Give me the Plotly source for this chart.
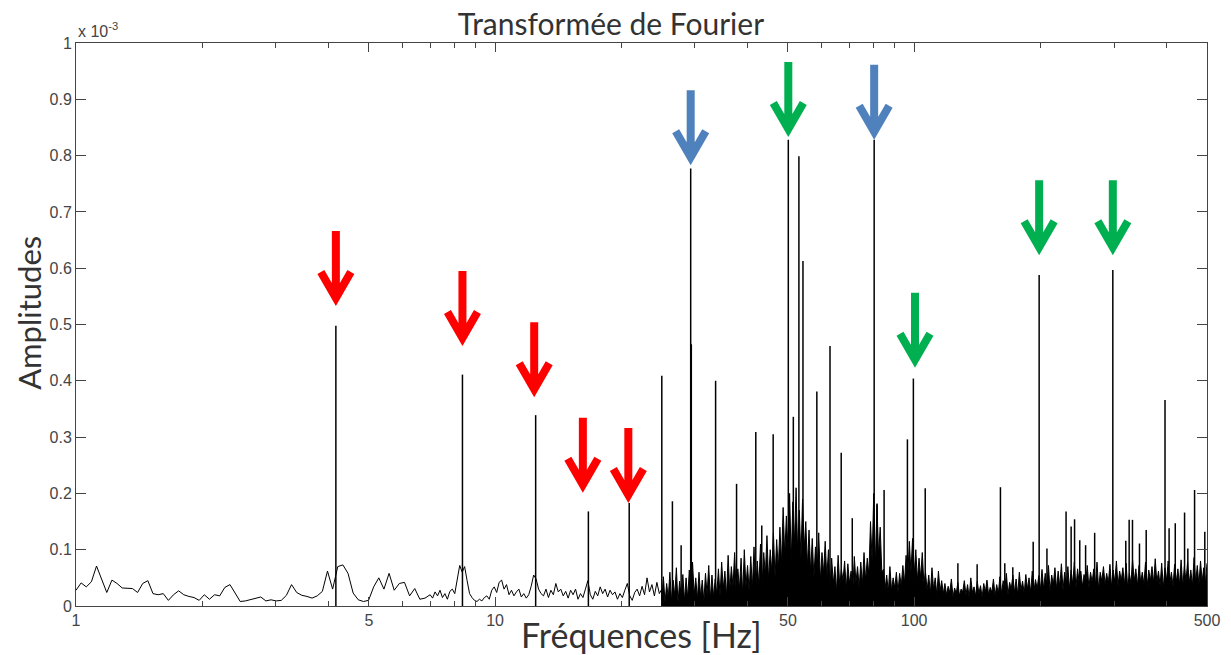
import numpy as np
import plotly.graph_objects as go

# amplitudes are in units of 1e-6 (the axis reads "x 10^-3")

# noise floor, 1 -> 7 Hz
noise_low = [28, 41, 34, 43, 71, 49, 24, 46, 40, 32, 31, 31, 24, 40, 45, 22, 20, 22, 10, 20,
             27, 20, 17, 15, 10, 20, 12, 20, 18, 33, 38, 22, 8, 9, 11, 14, 16, 9, 11, 9,
             10, 19, 38, 24, 19, 17, 14, 18, 26, 62, 30, 70, 73, 58, 23, 11, 8, 10, 34, 50,
             30, 58, 28, 40, 42, 18, 31, 12, 14, 20]

# noise floor, 7 -> 25 Hz
noise_mid = [20, 14, 25, 18, 28, 15, 22, 12, 26, 30, 22, 45, 72, 60, 70, 45, 22, 15, 10, 8,
             12, 9, 15, 18, 12, 28, 34, 24, 42, 46, 30, 38, 20, 28, 18, 25, 30, 16, 22, 14,
             20, 35, 55, 48, 30, 22, 18, 30, 15, 28, 20, 40, 25, 30, 18, 26, 14, 28, 20, 30,
             12, 22, 15, 30, 45, 20, 12, 26, 18, 34, 22, 30, 16, 28, 20, 25, 12, 22, 15, 28,
             40, 18, 10, 24, 30, 18, 35, 20, 50, 25, 38, 18, 42, 22, 30]

# noise floor, 25 -> 500 Hz (dense part, drawn filled)
noise_high = [
    12, 52, 6, 40, 14, 60, 8, 46, 18, 68, 6, 44, 16, 56, 9, 50, 14, 64, 10, 78,
    20, 50, 12, 60, 16, 46, 8, 58, 20, 72, 12, 55, 16, 48, 20, 66,
    18, 78, 30, 62, 16, 90, 26, 70, 34, 95, 22, 66, 30, 85, 20, 100, 34, 72, 26, 88,
    32, 105, 24, 80, 36,
    110, 40, 95, 55, 125, 45, 100, 60, 130, 50, 118, 65,
    140, 75, 175, 90, 160, 100, 200, 80, 185, 110, 210, 95, 170, 85, 190, 100, 150, 70, 135,
    60, 120, 50, 105, 65, 130, 45, 95, 58, 115, 50, 100,
    30, 85, 40, 70, 25, 90, 35, 65, 45, 80, 30, 75, 40, 62, 25, 88, 42, 70, 32, 78,
    38, 95, 45, 85, 55,
    150, 80, 200, 70, 180, 90, 140, 60,
    65, 30, 55, 25, 70, 28, 50, 32, 60, 25, 58, 35, 72, 40,
    90, 50, 115, 60, 120, 55, 100, 45, 85, 50, 95, 40,
    60, 28, 55, 22, 68, 30, 50, 20, 62, 26, 45, 22,
    40, 20, 35, 24, 48, 16, 32, 22, 42, 18, 30, 25, 45, 20, 38, 15, 50, 24, 34, 18,
    44, 22, 36, 16, 40, 25, 46, 20, 33, 24, 48, 18, 38, 22,
    52, 22, 45, 28, 58, 20, 42, 30, 55, 24, 48, 20, 60, 28, 44, 22, 56, 30, 50, 24,
    62, 26, 47, 30, 54,
    28, 65, 30, 58, 35, 72, 26, 55, 38, 68, 30, 62, 34, 75, 28, 60, 36, 70, 30, 64,
    38, 78, 32, 66, 40,
    62, 35, 56, 40, 72, 32, 60, 42, 66, 36, 78, 30, 60, 44, 70, 38, 58, 40, 74, 34,
    64, 42, 80, 36, 62, 45, 68, 38, 76, 32, 58, 40, 82, 44, 66, 36, 72, 42, 60, 38,
    78, 34, 64, 45, 70, 40, 84, 42, 62, 36, 76, 32, 68, 45, 80, 40, 60, 35, 74, 42,
    66, 38, 82, 34, 70, 44, 78, 40, 64, 36, 86, 42, 72, 38, 80, 44, 68, 40, 76]

# spectral lines
peak_freqs = [4.17, 8.36, 12.5, 16.7, 20.9, 25.0, 26.5, 27.8, 29.3, 29.4, 33.6, 37.7, 41.9, 43.3,
              46.1, 50.1, 51.5, 53.1, 54.3, 58.6, 63.0, 67.0, 71.2, 80.3, 81.6, 84.8, 96.4, 99.6,
              106.3, 127.2, 141.4, 160.7, 164.6, 172, 192.4, 198.8, 207.5, 230.5, 237, 241.5,
              248.5, 256.6, 269.7, 298, 320, 326, 332, 345, 358, 397, 406, 420, 442, 450, 467, 494]
peak_amps = [498, 411, 339, 168, 183, 409, 186, 108, 777, 465, 400, 217, 309, 143,
             305, 828, 336, 799, 613, 381, 462, 272, 156, 828, 182, 206, 296, 404,
             209, 76, 74, 211, 76, 69, 114, 588, 102, 168, 141, 154,
             117, 108, 130, 597, 116, 153, 153, 111, 135, 366, 138, 147, 166, 102, 206, 132]

# arrows: frequency, amplitude at the arrow tip, colour
arrow_freqs = [4.17, 8.36, 12.4, 16.2, 20.8, 29.3, 80.3, 50.1, 100.5, 198.8, 298]
arrow_tips = [533, 462, 371, 201, 183, 783, 828, 833, 423, 623, 623]
arrow_colors = ["#FF0000"] * 5 + ["#4F81BD", "#4F81BD"] + ["#00B050"] * 4

y_ticks = [0, 100, 200, 300, 400, 500, 600, 700, 800, 900, 1000]
y_labels = ["0", "0.1", "0.2", "0.3", "0.4", "0.5", "0.6", "0.7", "0.8", "0.9", "1"]
x_ticks = [1, 5, 10, 50, 100, 500]
x_minor = [2, 3, 4, 6, 7, 8, 9, 20, 30, 40, 60, 70, 80, 90, 200, 300, 400]

# frequency grid of each noise segment (evenly spread on the log axis)
f_low = np.geomspace(1, 7, len(noise_low))
f_mid = np.geomspace(7, 25, len(noise_mid))
f_high = np.geomspace(25, 500, len(noise_high))

spike_x, spike_y = [], []
for f, a in zip(peak_freqs, peak_amps):
    spike_x += [f, f, None]
    spike_y += [0, a, None]

fig = go.Figure()
fig.add_trace(go.Scatter(x=np.concatenate([f_low, f_mid, f_high[:1]]),
                         y=noise_low + noise_mid + noise_high[:1], mode="lines",
                         line=dict(color="black", width=1), hoverinfo="skip"))
fig.add_trace(go.Scatter(x=f_high, y=noise_high, mode="lines", fill="tozeroy",
                         fillcolor="black", line=dict(color="black", width=1),
                         hoverinfo="skip"))
fig.add_trace(go.Scatter(x=spike_x, y=spike_y, mode="lines",
                         line=dict(color="black", width=1.5), hoverinfo="skip"))

for f, tip, col in zip(arrow_freqs, arrow_tips, arrow_colors):
    fig.add_shape(type="path", xref="x", yref="y", xsizemode="pixel", ysizemode="pixel",
                  xanchor=f, yanchor=tip,
                  path="M 0,75 L 0,14 M -15,34 L 0,8 L 15,34",
                  line=dict(color=col, width=8), fillcolor="rgba(0,0,0,0)")

tick_font = dict(family="Liberation Sans, Arial", size=16, color="#444")
fig.update_xaxes(type="log", range=[0, np.log10(500)], tickvals=x_ticks,
                 ticktext=[str(v) for v in x_ticks], ticks="inside", ticklen=9,
                 tickcolor="#444", showline=True, linecolor="#444", linewidth=1,
                 mirror="ticks", showgrid=False, zeroline=False, tickfont=tick_font,
                 automargin=False,
                 minor=dict(tickvals=x_minor, ticks="inside", ticklen=5,
                            tickcolor="#444", showgrid=False))
fig.update_yaxes(range=[0, 1000], tickvals=y_ticks, ticktext=y_labels, ticks="inside",
                 ticklen=10, tickcolor="#444", showline=True, linecolor="#444",
                 linewidth=1, mirror="ticks", showgrid=False, zeroline=False,
                 tickfont=tick_font, automargin=False)

# the page puts the figure 8 px in from the top-left corner
fig.update_layout(
    width=1223, height=647,
    margin=dict(l=68, r=24, t=35, b=49),
    plot_bgcolor="white", paper_bgcolor="white",
    showlegend=False,
    title=dict(text="Transformée de Fourier", x=0.493, xanchor="center",
               y=0.974, yanchor="middle", automargin=False,
               font=dict(family="Lato, Open Sans", size=30, color="#333")),
    annotations=[
        dict(text="x 10<sup>-3</sup>", xref="paper", yref="paper", x=0, y=1,
             xanchor="left", yanchor="bottom", showarrow=False, yshift=1,
             font=dict(family="Liberation Sans, Arial", size=16, color="#444")),
        dict(text="Amplitudes", xref="paper", yref="paper", x=-0.041, y=0.52,
             xanchor="center", yanchor="middle", textangle=-90, showarrow=False,
             font=dict(family="Lato, Open Sans", size=31, color="#333")),
        dict(text="Fréquences [Hz]", xref="paper", yref="paper", x=0.5, y=-0.05,
             xanchor="center", yanchor="middle", showarrow=False,
             font=dict(family="Lato, Open Sans", size=34, color="#333")),
    ],
)

fig.write_html("out.html")
